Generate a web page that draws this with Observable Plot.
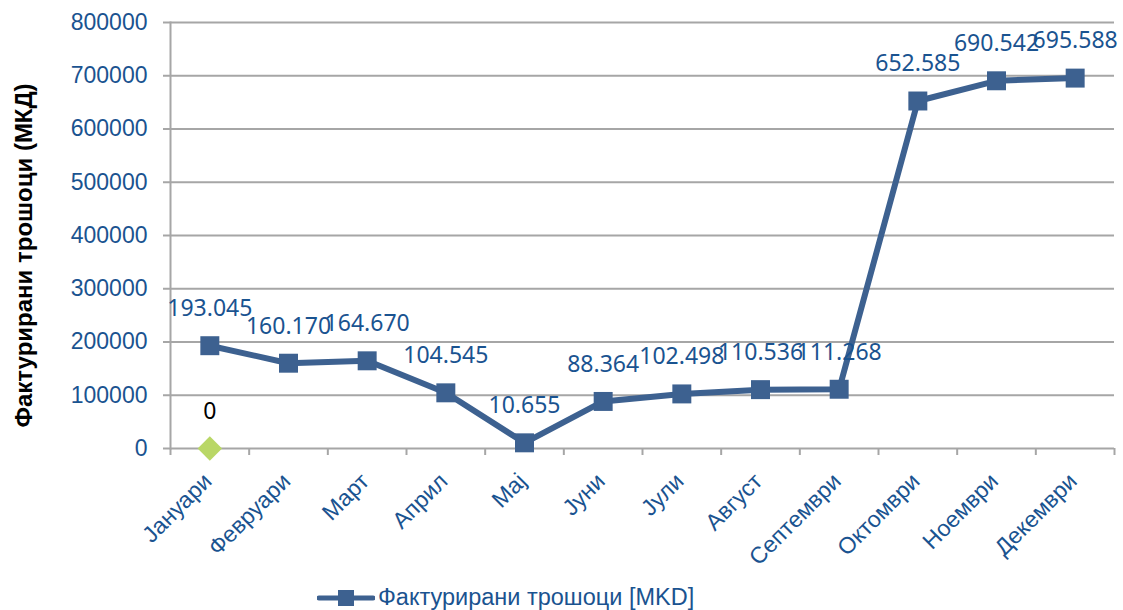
<!DOCTYPE html>
<html>
<head>
<meta charset="utf-8">
<script src="https://cdn.jsdelivr.net/npm/d3@7"></script>
<script src="https://cdn.jsdelivr.net/npm/@observablehq/plot@0.6"></script>
<style>
  html, body { margin: 0; padding: 0; background: #fff; }
  #chart { width: 1123px; height: 610px; overflow: hidden; position: relative; }
  #legend { display: flex; align-items: center; height: 35px; padding-top: 5px; padding-left: 317px;
            font-family: "Liberation Sans", Arial, sans-serif; font-size: 23.5px; color: #1a5390; }
  #legend svg { margin-right: 3px; }
</style>
</head>
<body>
<div id="chart"></div>
<script>
const months = ["Јануари","Февруари","Март","Април","Мај","Јуни","Јули","Август","Септември","Октомври","Ноември","Декември"];
const costs = [193045, 160170, 164670, 104545, 10655, 88364, 102498, 110536, 111268, 652585, 690542, 695588];
const zeroSeries = [0]; // only January
const yTicks = [0, 100000, 200000, 300000, 400000, 500000, 600000, 700000, 800000];
const seriesName = "Фактурирани трошоци [MKD]";
const yTitle = "Фактурирани трошоци (МКД)";

const lineColor = "#3d6190";
const textColor = "#1a5390";
const gridColor = "#a6a6a6";
const greenColor = "#b9d766";

const data = months.map((m, i) => ({month: m, value: costs[i]}));
const zeroData = zeroSeries.map((v, i) => ({month: months[i], value: v}));
const fmt = d3.formatLocale({decimal: ",", thousands: ".", grouping: [3], currency: ["", ""]}).format(",d");

const W = 1123, H = 575;
const mL = 170, mR = 9;
const half = (W - mL - mR) / months.length / 2;

const chart = Plot.plot({
  width: W, height: H,
  marginLeft: mL, marginRight: mR, marginTop: 22, marginBottom: 127,
  style: {fontFamily: "'Liberation Sans', Arial, sans-serif", background: "white", overflow: "visible"},
  x: {type: "point", domain: months, padding: 0.5, align: 0.5, round: false},
  y: {domain: [0, 800000]},
  marks: [
    Plot.gridY(yTicks, {stroke: gridColor, strokeOpacity: 1, strokeWidth: 2}),
    Plot.frame({anchor: "left", stroke: gridColor, strokeWidth: 2}),
    Plot.axisY(yTicks, {tickSize: 7, tickPadding: 16, stroke: gridColor, strokeWidth: 2, fill: textColor,
      fontSize: 23, tickFormat: d3.format("d"), label: null}),
    Plot.text([yTitle], {frameAnchor: "left", textAnchor: "middle", rotate: -90, dx: -146, dy: 20, fontSize: 24, fontWeight: "bold", fill: "black"}),
    Plot.axisX(months, {tickSize: 7, stroke: gridColor, strokeWidth: 2, tickFormat: () => "", dx: -half, label: null}),
    Plot.axisX([months[months.length - 1]], {tickSize: 7, stroke: gridColor, strokeWidth: 2, tickFormat: () => "", dx: half, label: null}),
    Plot.axisX(months, {tickSize: 0, tickRotate: -45, tickPadding: 14, dx: -2, dy: 15, fill: textColor, fontSize: 23, label: null}),
    Plot.line(data, {x: "month", y: "value", stroke: lineColor, strokeWidth: 6}),
    Plot.dot(data, {x: "month", y: "value", symbol: "square", r: 10.7, fill: lineColor, stroke: null}),
    Plot.dot(zeroData, {x: "month", y: "value", symbol: "diamond2", r: 11, fill: greenColor, stroke: null}),
    Plot.text(data, {x: "month", y: "value", text: d => fmt(d.value), dy: -37, fill: textColor, fontSize: 23, fontFamily: "'Noto Sans', sans-serif"}),
    Plot.text(zeroData, {x: "month", y: "value", text: d => fmt(d.value), dy: -37, fill: "black", fontSize: 23, fontFamily: "'Noto Sans', sans-serif"})
  ]
});

const root = document.getElementById("chart");
root.appendChild(chart);
const legend = document.createElement("div");
legend.id = "legend";
legend.innerHTML = `<svg width="58" height="20"><line x1="2" y1="10" x2="56" y2="10" stroke="${lineColor}" stroke-width="5" stroke-linecap="round"/><rect x="21" y="2" width="16" height="16" fill="${lineColor}"/></svg><span>${seriesName}</span>`;
root.appendChild(legend);
</script>
</body>
</html>
